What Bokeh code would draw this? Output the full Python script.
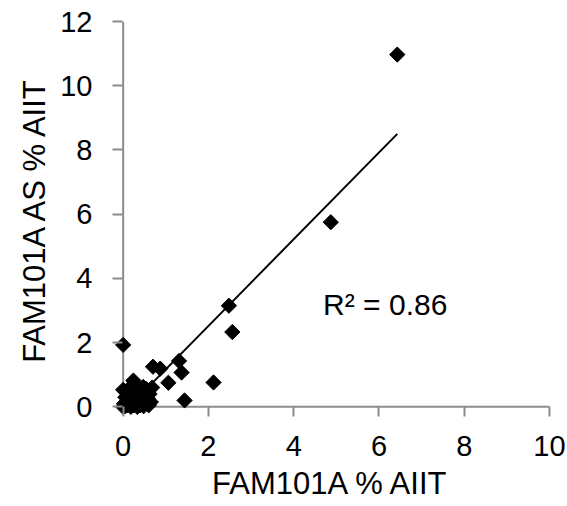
import numpy as np
from bokeh.plotting import figure
from bokeh.models import Label, FixedTicker, Range1d, Title
from bokeh.embed import file_html
from bokeh.resources import INLINE

# ---- data ----
x_vals = [6.43, 4.87, 2.48, 2.56, 0.00, 1.31, 0.70, 0.87, 1.37, 1.06, 2.12, 1.44, 0.24, 0.00, 0.47,
          0.00, 0.02, 0.05, 0.05, 0.08, 0.10, 0.12, 0.15, 0.18, 0.20, 0.22, 0.25, 0.28, 0.30, 0.33,
          0.35, 0.38, 0.40, 0.42, 0.45, 0.48, 0.50, 0.52, 0.55, 0.58, 0.60, 0.62, 0.65, 0.68, 0.12, 0.35]
y_vals = [10.97, 5.75, 3.15, 2.33, 1.93, 1.43, 1.25, 1.19, 1.07, 0.75, 0.76, 0.20, 0.82, 0.53, 0.62,
          0.00, 0.10, 0.02, 0.30, 0.15, 0.05, 0.40, 0.20, 0.00, 0.10, 0.35, 0.05, 0.20, 0.50, 0.00,
          0.15, 0.30, 0.05, 0.45, 0.20, 0.02, 0.35, 0.10, 0.55, 0.25, 0.05, 0.40, 0.15, 0.60, 0.55, 0.60]
trend_slope = 1.35
trend_intercept = -0.18
r2_text = "R² = 0.86"
x_ticks = [0, 2, 4, 6, 8, 10]
y_ticks = [0, 2, 4, 6, 8, 10, 12]
x_title = "FAM101A % AIIT"
y_title = "FAM101A AS % AIIT"

FONT = "Liberation Sans"
AXIS_COLOR = "#8c8c8c"

# small padding below 0 so markers sitting on the axes are not clipped
p = figure(width=567, height=506, output_backend="svg", toolbar_location=None,
           x_range=Range1d(-0.25, 10), y_range=Range1d(-0.3, 12),
           min_border_left=112, min_border_right=18, min_border_top=21, min_border_bottom=90)
p.outline_line_color = None
p.grid.visible = False
p.background_fill_color = "white"
p.border_fill_color = "white"

for ax, ticks in ((p.xaxis[0], x_ticks), (p.yaxis[0], y_ticks)):
    ax.ticker = FixedTicker(ticks=ticks)
    ax.minor_tick_line_color = None
    ax.major_tick_in = 10
    ax.major_tick_out = 0
    ax.major_tick_line_color = AXIS_COLOR
    ax.major_tick_line_width = 2
    ax.axis_line_color = None
    ax.major_label_text_font = FONT
    ax.major_label_text_font_size = "29px"
    ax.major_label_text_color = "black"

p.xaxis.major_label_standoff = 19
p.yaxis.major_label_standoff = 20

# axis titles as side-panel titles (outside the axes)
p.add_layout(Title(text=x_title, align="center", offset=2, standoff=10,
                   text_font=FONT, text_font_size="31px", text_font_style="normal",
                   text_color="black"), "below")
p.add_layout(Title(text=y_title, align="center", offset=21, standoff=12,
                   text_font=FONT, text_font_size="31px", text_font_style="normal",
                   text_color="black"), "left")

# axis lines at x = 0 and y = 0 (drawn first so markers sit on top)
p.segment(x0=[x_ticks[0], x_ticks[0]], y0=[y_ticks[0], y_ticks[0]],
          x1=[x_ticks[-1], x_ticks[0]], y1=[y_ticks[0], y_ticks[-1]],
          line_color=AXIS_COLOR, line_width=2)

# trend line over the x extent of the data
xs_line = np.array([min(x_vals), max(x_vals)])
p.line(xs_line, trend_slope * xs_line + trend_intercept, line_color="black", line_width=2)

p.scatter(x_vals, y_vals, marker="square", angle=np.pi / 4, size=10.8,
          fill_color="black", line_color="black")

p.add_layout(Label(x=4.69, y=3.2, text=r2_text, text_font=FONT, text_font_size="30px",
                   text_color="black", text_baseline="alphabetic"))

open("out.html", "w").write(file_html(p, INLINE))
